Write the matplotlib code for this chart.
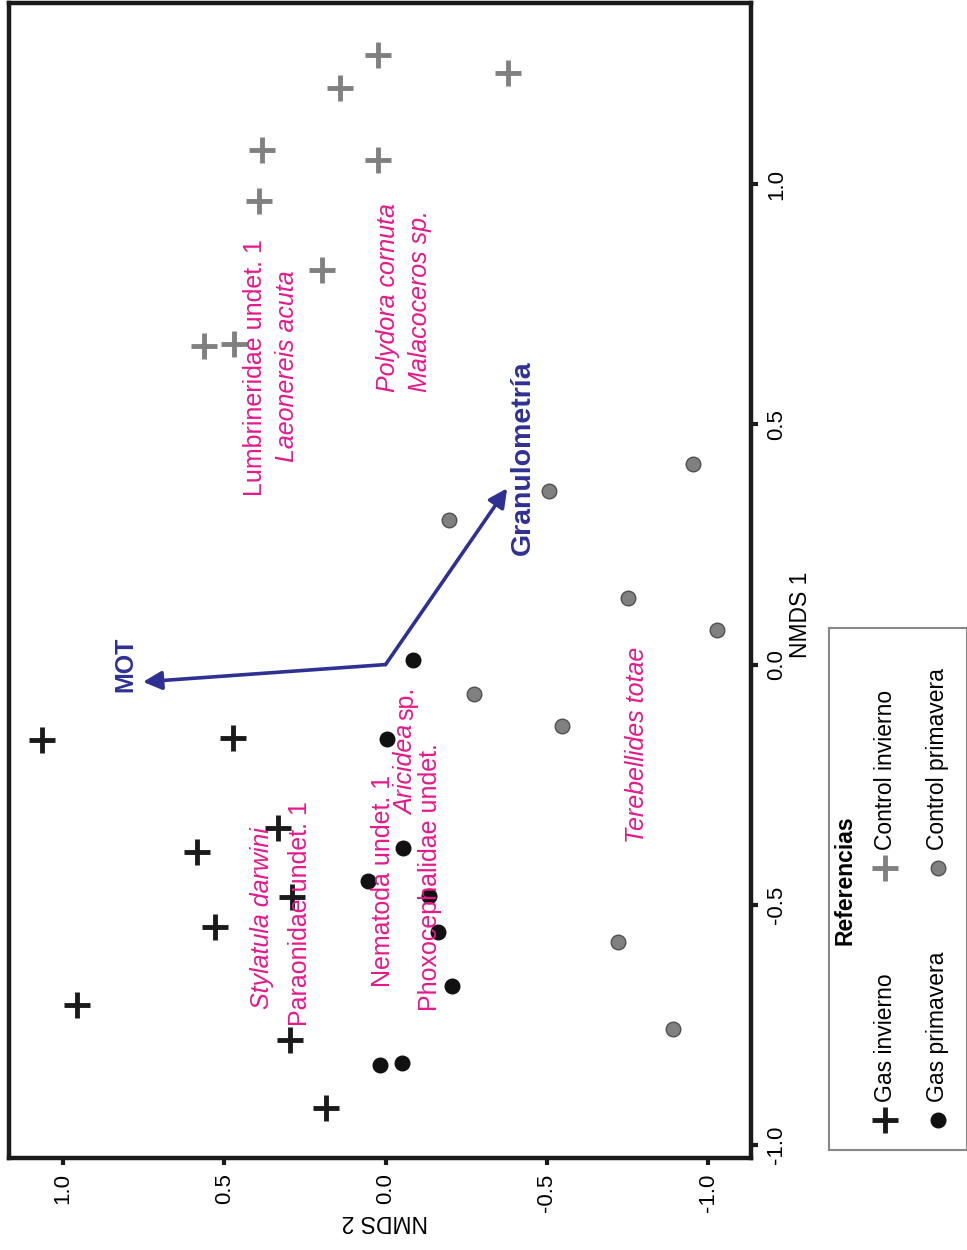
import matplotlib
matplotlib.use("Agg")
import matplotlib.pyplot as plt

plt.rcParams['font.family'] = ['Liberation Sans', 'DejaVu Sans']

# NMDS scores (NMDS 1, NMDS 2)
gas_inv_n1 = [-0.157, -0.709, -0.390, -0.153, -0.546, -0.340, -0.484, -0.781, -0.923]
gas_inv_n2 = [1.065, 0.957, 0.584, 0.473, 0.529, 0.333, 0.290, 0.296, 0.184]

gas_pri_n1 = [0.009, -0.155, -0.382, -0.451, -0.482, -0.557, -0.669, -0.834, -0.830]
gas_pri_n2 = [-0.085, -0.005, -0.054, 0.054, -0.135, -0.163, -0.206, 0.017, -0.051]

ctl_inv_n1 = [1.268, 1.231, 1.200, 1.071, 1.050, 0.965, 0.821, 0.663, 0.667]
ctl_inv_n2 = [0.023, -0.380, 0.141, 0.383, 0.023, 0.392, 0.197, 0.563, 0.470]

ctl_pri_n1 = [0.418, 0.361, 0.301, 0.138, 0.072, -0.061, -0.128, -0.577, -0.759]
ctl_pri_n2 = [-0.953, -0.507, -0.197, -0.752, -1.028, -0.274, -0.547, -0.721, -0.892]

# environmental vectors
vec_names = ['MOT', 'Granulometría']
vec_n1 = [-0.036, 0.367]
vec_n2 = [0.752, -0.377]
vec_lab_n1 = [0.0, 0.430]
vec_lab_n2 = [0.807, -0.426]
vec_size = [18, 20.5]

# species labels (italic part, plain part)
sp_main = ['Lumbrineridae undet. 1', 'Laeonereis acuta', 'Polydora cornuta',
           'Malacoceros sp.', 'Terebellides totae', 'Stylatula darwini',
           'Paraonidae undet. 1', 'Nematoda undet. 1', 'Aricidea',
           'Phoxocephalidae undet.']
sp_tail = ['', '', '', '', '', '', '', '', 'sp.', '']
sp_n1 = [0.619, 0.621, 0.763, 0.756, -0.168, -0.528, -0.519, -0.450, -0.220, -0.442]
sp_n2 = [0.405, 0.305, -0.008, -0.107, -0.780, 0.383, 0.265, 0.008, -0.064, -0.138]
sp_italic = [False, True, True, True, True, True, False, False, True, False]

ticks = [-1.0, -0.5, 0.0, 0.5, 1.0]

navy = '#2e3192'
magenta = '#e6188c'
gray = '#808080'
black = '#1a1a1a'

fig = plt.figure(figsize=(9.67, 12.5), dpi=100)
W, H = 967, 1250
ax = fig.add_axes([8.5 / W, 1 - 1158 / H, (751 - 8.5) / W, (1158 - 3) / H])

# figure is rotated: NMDS 2 runs along the bottom (reversed), NMDS 1 up the right side
ax.plot(gas_inv_n2, gas_inv_n1, ls='none', marker='+', ms=19, mew=3.5, color=black)
ax.plot(ctl_inv_n2, ctl_inv_n1, ls='none', marker='+', ms=19, mew=3.5, color=gray)
ax.plot(gas_pri_n2, gas_pri_n1, ls='none', marker='o', ms=10.5, color='#111111', mec='#111111')
ax.plot(ctl_pri_n2, ctl_pri_n1, ls='none', marker='o', ms=10.5, color=gray, mec='#505050', mew=1)

for name, a1, a2, l1, l2, fs in zip(vec_names, vec_n1, vec_n2, vec_lab_n1, vec_lab_n2, vec_size):
    ax.annotate('', xy=(a2, a1), xytext=(0, 0),
                arrowprops=dict(arrowstyle='-|>', color=navy, lw=2.6, mutation_scale=28,
                                shrinkA=0, shrinkB=0))
    ax.text(l2, l1, name, rotation=90, ha='center', va='center', color=navy,
            fontsize=fs, fontweight='bold')

for name, tail, s1, s2, it in zip(sp_main, sp_tail, sp_n1, sp_n2, sp_italic):
    t = ax.text(s2, s1, name, rotation=90, ha='center', va='center', color=magenta,
                fontsize=18, style='italic' if it else 'normal')
    if tail:
        ax.annotate(tail, xy=(0.5, 1), xycoords=t, xytext=(0, 4), textcoords='offset points',
                    rotation=90, ha='center', va='bottom', color=magenta, fontsize=18)

ax.set_xlim(1.169, -1.133)
ax.set_ylim(-1.027, 1.377)
ax.set_xticks(ticks)
ax.set_yticks(ticks)
ax.set_xticklabels([f'{t:.1f}' for t in ticks], rotation=90, fontsize=16)
ax.yaxis.tick_right()
ax.set_yticklabels([f'{t:.1f}' for t in ticks], rotation=90, va='center', fontsize=16)
ax.tick_params(direction='out', length=5, width=3, color=black, pad=6)
for s in ax.spines.values():
    s.set_linewidth(3.2)
    s.set_color(black)

ax.text(0.507, -0.055, 'NMDS 2', transform=ax.transAxes, rotation=180,
        ha='center', va='center', fontsize=16.5)
ax.text(1.066, 0.47, 'NMDS 1', transform=ax.transAxes, rotation=90,
        ha='center', va='center', fontsize=16.5)

# legend box drawn by hand (rotated)
lax = fig.add_axes([829 / W, 1 - 1150 / H, (967 - 829) / W, (1150 - 628) / H])
lax.set_xlim(829, 967)
lax.set_ylim(1150, 628)
lax.set_xticks([])
lax.set_yticks([])
for s in lax.spines.values():
    s.set_linewidth(1.5)
    s.set_color('#888888')
lax.text(845, 880, 'Referencias', rotation=90, ha='center', va='center',
         fontsize=16.5, fontweight='bold')
lax.plot([885], [1120], marker='+', ms=19, mew=3.5, color=black)
lax.plot([885], [868], marker='+', ms=19, mew=3.5, color=gray)
lax.plot([938], [1120], marker='o', ms=10.5, color='#111111')
lax.plot([938], [868], marker='o', ms=10.5, color=gray, mec='#505050', mew=1)
lax.text(886, 1102, 'Gas invierno', rotation=90, ha='center', va='bottom', fontsize=16.5)
lax.text(886, 850, 'Control invierno', rotation=90, ha='center', va='bottom', fontsize=16.5)
lax.text(938, 1102, 'Gas primavera', rotation=90, ha='center', va='bottom', fontsize=16.5)
lax.text(938, 850, 'Control primavera', rotation=90, ha='center', va='bottom', fontsize=16.5)

fig.savefig('out.png', dpi=100)
